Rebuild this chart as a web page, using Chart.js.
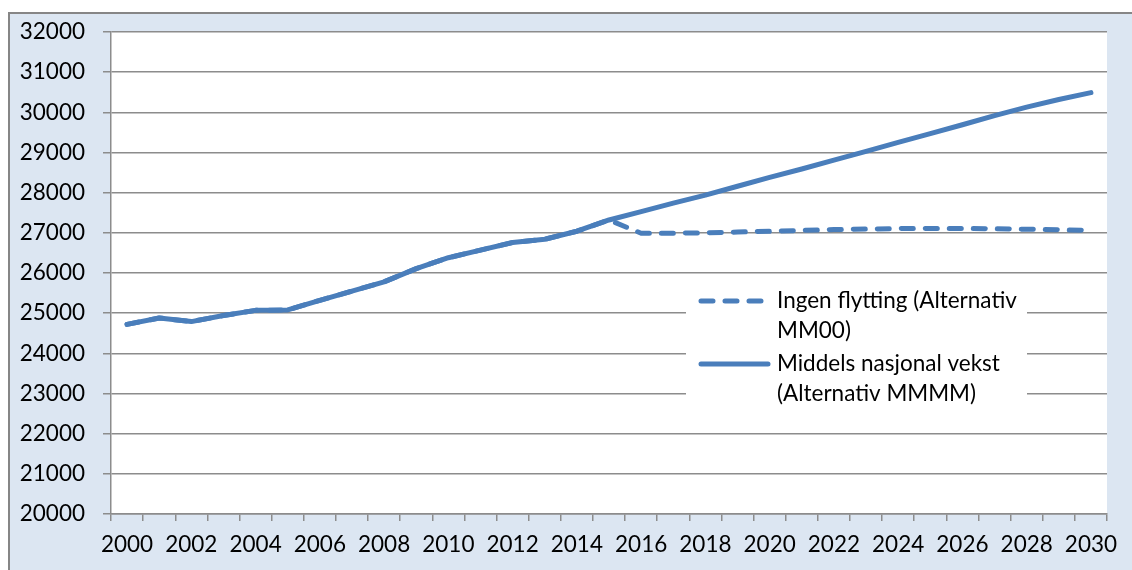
<!DOCTYPE html>
<html>
<head>
<meta charset="utf-8">
<script src="https://cdn.jsdelivr.net/npm/chart.js@4.4.0/dist/chart.umd.min.js"></script>
<style>
  html, body { margin: 0; padding: 0; background: #fff; }
</style>
</head>
<body>
<canvas id="chart" width="1132" height="570"></canvas>
<script>
// årstall på x-aksen
const years = ["2000", "2001", "2002", "2003", "2004", "2005", "2006", "2007", "2008", "2009",
  "2010", "2011", "2012", "2013", "2014", "2015", "2016", "2017", "2018", "2019",
  "2020", "2021", "2022", "2023", "2024", "2025", "2026", "2027", "2028", "2029", "2030"];

// Ingen flytting (Alternativ MM00)
const ingenFlytting = [24720, 24880, 24790, 24940, 25070, 25080, 25320, 25550, 25780, 26110,
  26380, 26570, 26760, 26840, 27040, 27320, 26990, 26990, 27000, 27020,
  27040, 27060, 27080, 27095, 27105, 27110, 27110, 27100, 27090, 27075, 27060];

// Middels nasjonal vekst (Alternativ MMMM)
const middelsVekst = [24720, 24880, 24790, 24940, 25070, 25080, 25320, 25550, 25780, 26110,
  26380, 26570, 26760, 26840, 27040, 27320, 27530, 27740, 27940, 28160,
  28380, 28590, 28810, 29030, 29250, 29470, 29690, 29920, 30130, 30320, 30490];

const legendLines = [
  ["Ingen flytting (Alternativ", "MM00)"],
  ["Middels nasjonal vekst", "(Alternativ MMMM)"]
];

const lineColor = "#4a7ebb";
const gridColor = "#8c8c8c";
const fontFamily = "Lato, 'Open Sans', sans-serif";

// bakgrunn, ramme og hvitt plottområde
const backgroundPlugin = {
  id: "background",
  beforeDraw(chart) {
    const { ctx, chartArea } = chart;
    ctx.save();
    ctx.fillStyle = "#ffffff";
    ctx.fillRect(0, 0, chart.width, chart.height);
    ctx.fillStyle = "#dce6f2";
    ctx.fillRect(9, 13, chart.width, chart.height);
    ctx.strokeStyle = "#868686";
    ctx.lineWidth = 2;
    ctx.strokeRect(9, 13, chart.width + 10, chart.height + 10);
    ctx.fillStyle = "#ffffff";
    ctx.fillRect(chartArea.left, chartArea.top, chartArea.right - chartArea.left, chartArea.bottom - chartArea.top);
    ctx.restore();
  }
};

// egen forklaring inne i plottet
const legendPlugin = {
  id: "insideLegend",
  afterDraw(chart) {
    const { ctx } = chart;
    ctx.save();
    ctx.fillStyle = "#ffffff";
    ctx.fillRect(686, 282, 341, 140);
    ctx.font = "22.5px " + fontFamily;
    ctx.textBaseline = "middle";
    ctx.textAlign = "left";
    const rows = [301, 364];
    chart.data.datasets.forEach((ds, i) => {
      const y = rows[i];
      ctx.strokeStyle = ds.borderColor;
      ctx.lineWidth = ds.borderWidth;
      ctx.lineCap = "round";
      ctx.setLineDash(ds.borderDash || []);
      ctx.beginPath();
      ctx.moveTo(701, y);
      ctx.lineTo(768, y);
      ctx.stroke();
      ctx.setLineDash([]);
      ctx.fillStyle = "#000";
      legendLines[i].forEach((t, j) => ctx.fillText(t, 777, y + j * 30));
    });
    ctx.restore();
  }
};

new Chart(document.getElementById("chart"), {
  type: "line",
  data: {
    labels: years,
    datasets: [
      {
        label: "Ingen flytting (Alternativ MM00)",
        data: ingenFlytting,
        borderColor: lineColor,
        borderWidth: 5,
        borderDash: [12, 12],
        borderCapStyle: "round",
        borderJoinStyle: "round",
        pointRadius: 0,
        tension: 0
      },
      {
        label: "Middels nasjonal vekst (Alternativ MMMM)",
        data: middelsVekst,
        borderColor: lineColor,
        borderWidth: 5,
        borderCapStyle: "round",
        borderJoinStyle: "round",
        pointRadius: 0,
        tension: 0
      }
    ]
  },
  options: {
    responsive: false,
    animation: false,
    devicePixelRatio: 1,
    layout: { padding: { left: 0, top: 32, right: 25, bottom: 0 } },
    plugins: {
      legend: { display: false },
      tooltip: { enabled: false }
    },
    scales: {
      x: {
        offset: true,
        afterFit: (s) => { s.height = 56; },
        grid: {
          offset: true,
          drawOnChartArea: false,
          color: gridColor,
          lineWidth: 1.5,
          tickLength: 7
        },
        border: { color: gridColor, width: 1.5 },
        ticks: {
          autoSkip: false,
          maxRotation: 0,
          color: "#000",
          padding: 10,
          font: { family: fontFamily, size: 22.5 },
          callback: function (val, i) { return i % 2 === 0 ? this.getLabelForValue(val) : ""; }
        }
      },
      y: {
        min: 20000,
        max: 32000,
        afterFit: (s) => { s.width = 111; },
        grid: {
          color: gridColor,
          lineWidth: 1.5,
          tickLength: 8
        },
        border: { color: gridColor, width: 1.5 },
        ticks: {
          stepSize: 1000,
          color: "#000",
          padding: 18,
          font: { family: fontFamily, size: 22.5 },
          callback: (v) => String(v)
        }
      }
    }
  },
  plugins: [backgroundPlugin, legendPlugin]
});
</script>
</body>
</html>
